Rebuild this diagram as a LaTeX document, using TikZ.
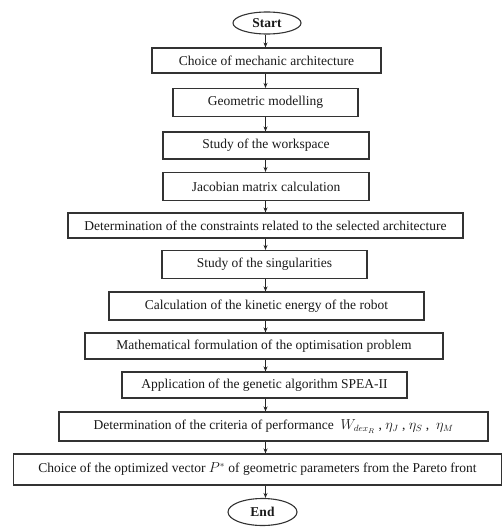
\documentclass[tikz,border=0pt]{standalone}
\usepackage{fontspec}
\setmainfont{Liberation Serif}
\usetikzlibrary{shapes.geometric,arrows.meta}
\begin{document}
\begin{tikzpicture}[x=1pt,y=-1pt,
  every node/.style={font=\fontsize{13.5}{15}\selectfont, text=black!90},
  stepbox/.style={draw=black!80, line width=1.1pt, rectangle, inner sep=0pt},
  terminal/.style={draw=black!80, line width=1.1pt, ellipse, inner sep=0pt, font=\fontsize{13.5}{15}\selectfont\bfseries},
  arr/.style={draw=black!85, line width=0.9pt, -{Stealth[length=5pt,width=4pt]}}]
\useasboundingbox (0,0) rectangle (503,527);
\coordinate (spine) at (265.5,0);
\node[terminal, minimum width=68, minimum height=22] (start) at (267,23) {Start};
\node[stepbox, minimum width=229, minimum height=25] (b1) at (266.5,60.5) {Choice of mechanic architecture};
\node[stepbox, minimum width=185, minimum height=28] (b2) at (265.5,102.5) {Geometric modelling};
\node[stepbox, minimum width=206, minimum height=27] (b3) at (266,145.5) {Study of the workspace};
\node[stepbox, minimum width=206, minimum height=28] (b4) at (266,186.5) {Jacobian matrix calculation};
\node[stepbox, minimum width=395, minimum height=25] (b5) at (265.5,225.5) {Determination of the constraints related to the selected architecture};
\node[stepbox, minimum width=205, minimum height=28] (b6) at (264.5,264.5) {Study of the singularities};
\node[stepbox, minimum width=315, minimum height=28] (b7) at (266.5,306) {Calculation of the kinetic energy of the robot};
\node[stepbox, minimum width=358, minimum height=26] (b8) at (264,346) {Mathematical formulation of the optimisation problem};
\node[stepbox, minimum width=285, minimum height=26] (b9) at (264.5,385) {Application of the genetic algorithm SPEA-II};
\node[stepbox, minimum width=429, minimum height=29] (b10) at (273.5,426.5) {Determination of the criteria of performance \ $W_{dex_R}$ , $\eta_J$ , $\eta_S$ , \ $\eta_M$};
\node[stepbox, minimum width=488, minimum height=31] (b11) at (257.5,469.5) {Choice of the optimized vector $P^{*}$ of geometric parameters from the Pareto front};
\node[terminal, minimum width=69, minimum height=27] (end) at (262.5,512) {End};
\foreach \a/\b in {start/b1,b1/b2,b2/b3,b3/b4,b4/b5,b5/b6,b6/b7,b7/b8,b8/b9,b9/b10,b10/b11,b11/end}
  \draw[arr] (\a.south -| spine) -- (\b.north -| spine);
\end{tikzpicture}
\end{document}
